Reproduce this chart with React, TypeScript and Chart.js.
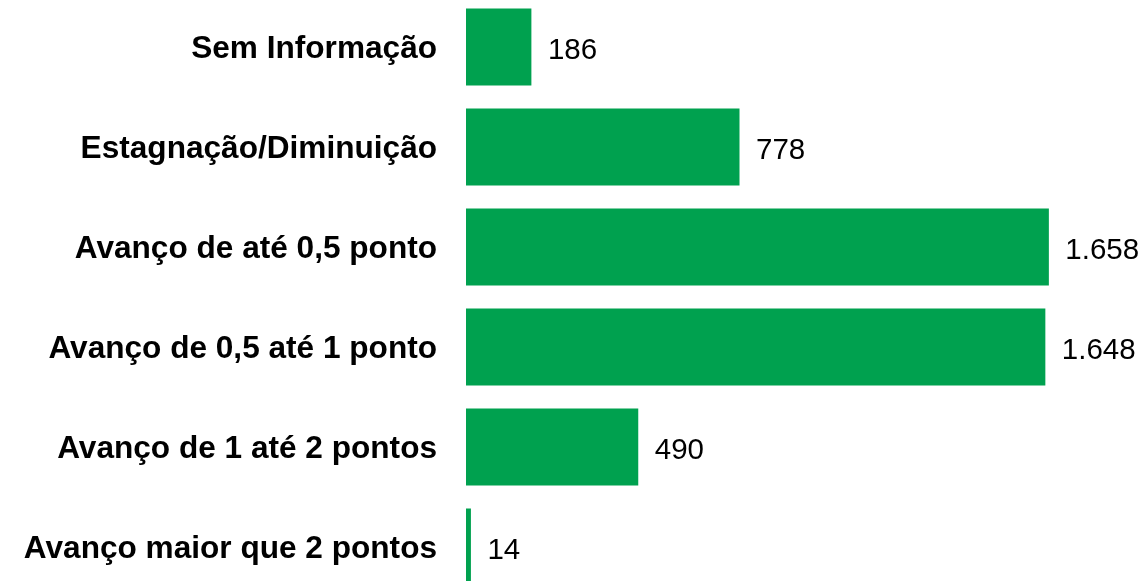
import React, { useEffect, useRef } from "react";
import { Chart, registerables } from "chart.js";

Chart.register(...registerables);

const categories = [
  "Sem Informação",
  "Estagnação/Diminuição",
  "Avanço de até 0,5 ponto",
  "Avanço de 0,5 até 1 ponto",
  "Avanço de 1 até 2 pontos",
  "Avanço maior que 2 pontos",
];
const values = [186, 778, 1658, 1648, 490, 14];

const FONT = "'Liberation Sans', Arial, Helvetica, sans-serif";

function fmt(v: number): string {
  const s = String(Math.round(v));
  return s.replace(/\B(?=(\d{3})+(?!\d))/g, ".");
}

const textLabels = {
  id: "textLabels",
  afterDatasetsDraw(chart: any) {
    const ctx = chart.ctx;
    const meta = chart.getDatasetMeta(0);
    ctx.save();
    ctx.fillStyle = "#000000";
    ctx.textBaseline = "alphabetic";
    meta.data.forEach((bar: any, i: number) => {
      ctx.font = `bold 31.6px ${FONT}`;
      ctx.textAlign = "right";
      ctx.fillText(categories[i], chart.chartArea.left - 29, bar.y + 11.3);
      ctx.font = `29.5px ${FONT}`;
      ctx.textAlign = "left";
      ctx.fillText(fmt(values[i]), bar.x + 16.5, bar.y + 12.2);
    });
    ctx.restore();
  },
};

export default function App() {
  const ref = useRef<HTMLCanvasElement | null>(null);
  useEffect(() => {
    document.body.style.margin = "0";
    if (!ref.current) return;
    const chart = new Chart(ref.current, {
      type: "bar",
      data: {
        labels: categories,
        datasets: [
          {
            data: values,
            backgroundColor: "#00A14F",
            borderWidth: 0,
            categoryPercentage: 1,
            barPercentage: 0.77,
          },
        ],
      },
      options: {
        indexAxis: "y",
        animation: false,
        responsive: true,
        maintainAspectRatio: false,
        layout: { padding: { left: 466, right: 0, top: 0, bottom: 0 } },
        plugins: {
          legend: { display: false },
          tooltip: { enabled: false },
        },
        scales: {
          x: {
            display: false,
            min: 0,
            max: 1940,
          },
          y: {
            display: false,
          },
        },
      },
      plugins: [textLabels],
    });
    return () => chart.destroy();
  }, []);
  return (
    <div
      style={{
        position: "fixed",
        left: 0,
        top: -3,
        width: 1148,
        height: 600,
        background: "#ffffff",
      }}
    >
      <canvas ref={ref} />
    </div>
  );
}
